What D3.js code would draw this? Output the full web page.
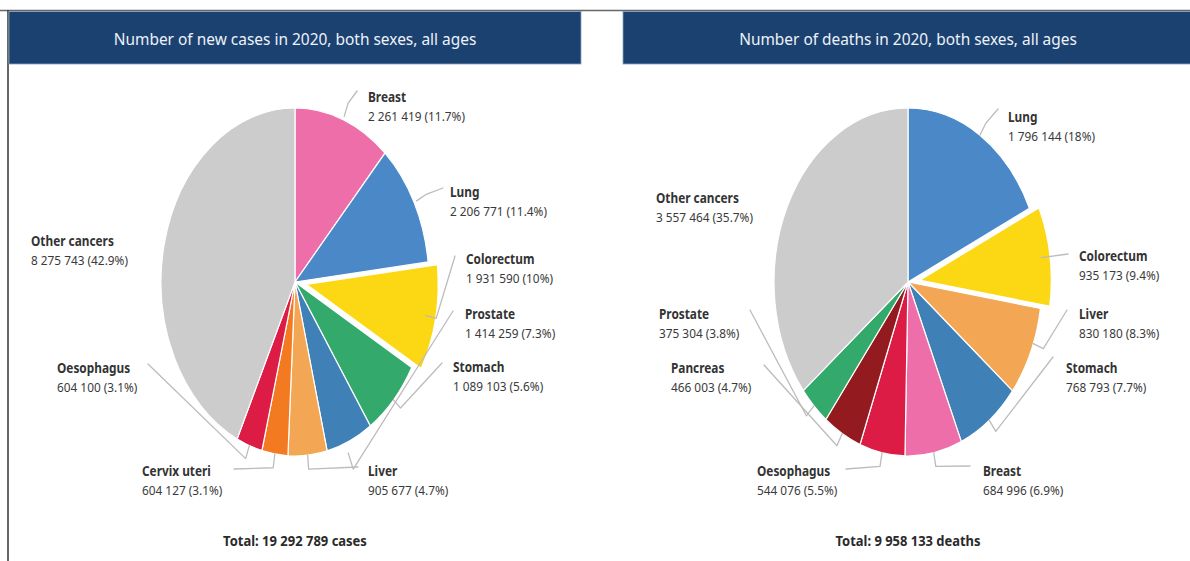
<!DOCTYPE html>
<html><head><meta charset="utf-8">
<script src="https://cdn.jsdelivr.net/npm/d3@7"></script>
<style>
html,body{margin:0;padding:0;background:#fff;}
svg{display:block;font-family:"Noto Sans",sans-serif;}
</style></head><body>
<svg id="chart" width="1190" height="561"></svg>
<script>
// ---------------- data ----------------
const casesCategories = ["Breast","Lung","Colorectum","Prostate","Stomach","Liver","Cervix uteri","Oesophagus","Other cancers"];
const casesValues = [2261419,2206771,1931590,1414259,1089103,905677,604127,604100,8275743];
const deathsCategories = ["Lung","Colorectum","Liver","Stomach","Breast","Oesophagus","Pancreas","Prostate","Other cancers"];
const deathsValues = [1796144,935173,830180,768793,684996,544076,466003,375304,3557464];
const panelTitles = ["Number of new cases in 2020, both sexes, all ages","Number of deaths in 2020, both sexes, all ages"];
const totalUnits = ["cases","deaths"];
const explodedCategory = "Colorectum";

// ---------------- styles ----------------
const colorMap = {
  "Breast":"#ee6ea9","Lung":"#4a88c8","Colorectum":"#fbd813","Prostate":"#33a96c",
  "Stomach":"#3f80b7","Liver":"#f3a653","Cervix uteri":"#f47a22","Oesophagus":"#dc1c45",
  "Pancreas":"#931a1e","Other cancers":"#cbcccb"
};

// ---------------- layout (label placement, relative to pie centre) ----------------
const casesLayout = {
  "Breast":       {label:[73,-181],  leader:{t:.5,k1:1.02,k2:1.10,end:[62,-191]}},
  "Lung":         {label:[155,-86],  leader:{t:.5,k1:1.02,k2:1.10,end:[148,-94]}},
  "Colorectum":   {label:[171,-19],  leader:{t:.5,k1:0.92,k2:1.0,end:[160,-26]}},
  "Prostate":     {label:[170,36],   leader:{slice:"Stomach",t:.6,k1:1.06,k2:1.16,end:[158,29]}},
  "Stomach":      {label:[158,89],   leader:{slice:"Prostate",t:.5,k1:1.0,k2:1.07,end:[147,81]}},
  "Liver":        {label:[73,193],   leader:{t:.5,k1:1.0,k2:1.08,end:[63,185]}},
  "Cervix uteri": {label:[-153,193], leader:{t:.5,k1:1.0,k2:1.08,end:[-61,187]}},
  "Oesophagus":   {label:[-238,90],  leader:{t:.5,k1:1.0,k2:1.08,end:[-147,82]}},
  "Other cancers":{label:[-264,-37], leader:null}
};
const deathsLayout = {
  "Lung":         {label:[100,-161], leader:{t:.5,k1:1.0,k2:1.08,end:[90,-173]}},
  "Colorectum":   {label:[171,-22],  leader:{t:.5,k1:0.93,k2:null,end:[160,-28]}},
  "Liver":        {label:[171,36],   leader:{t:.4,k1:1.0,k2:1.08,end:[159,28]}},
  "Stomach":      {label:[158,90],   leader:{t:.5,k1:1.0,k2:1.08,end:[145,75]}},
  "Breast":       {label:[75,193],   leader:{t:.5,k1:1.0,k2:1.08,end:[62,184]}},
  "Oesophagus":   {label:[-151,193], leader:{t:.5,k1:1.0,k2:1.08,end:[-62,187]}},
  "Pancreas":     {label:[-237,90],  leader:{t:.5,k1:1.0,k2:1.08,end:[-144,83]}},
  "Prostate":     {label:[-249,36],  leader:{t:.5,k1:1.0,k2:1.08,end:[-158,28]}},
  "Other cancers":{label:[-252,-80], leader:null}
};

const W = 1190, H = 561;
const RX = 134, RY = 174, CY = 282;
const panels = [
  {cats:casesCategories, vals:casesValues, layout:casesLayout, cx:295, hx:9, hw:572, title:panelTitles[0], unit:totalUnits[0]},
  {cats:deathsCategories, vals:deathsValues, layout:deathsLayout, cx:908, hx:623, hw:570, title:panelTitles[1], unit:totalUnits[1]}
];

const svg = d3.select("#chart");
const locale = d3.formatLocale({decimal:".", thousands:" ", grouping:[3], currency:["",""]});
const fmtNum = locale.format(",");
const fmtPct = v => { let s = v.toFixed(1); if (s.endsWith(".0")) s = s.slice(0,-2); return s; };

function measure(str, size, weight){
  const t = svg.append("text").attr("font-size",size).attr("font-weight",weight).text(str);
  const w = t.node().getComputedTextLength(); t.remove(); return w;
}
const LBL = 13.3;
const labelSX = 97 / measure("2 261 419 (11.7%)", LBL, 400);

// frame
svg.append("line").attr("x1",0).attr("x2",W).attr("y1",10.5).attr("y2",10.5).attr("stroke","#666").attr("stroke-width",1.5);
svg.append("line").attr("x1",8).attr("x2",8).attr("y1",10).attr("y2",H).attr("stroke","#333").attr("stroke-width",1.5);

const titleTargets = [363, 338];
const totalTargets = [144, 145];

panels.forEach((p, pi) => {
  const g = svg.append("g");
  g.append("rect").attr("x",p.hx).attr("y",11.5).attr("width",p.hw).attr("height",52.5)
    .attr("fill","#1b4171").attr("stroke","#8aa2c0").attr("stroke-width",0.8);
  const TS = 17;
  const tsx = titleTargets[pi] / measure(p.title, TS, 400);
  g.append("text").attr("transform",`translate(${p.cx},${45}) scale(${tsx},1)`)
    .attr("text-anchor","middle").attr("font-size",TS).attr("fill","#eef2f8").text(p.title);

  const total = d3.sum(p.vals);
  const arcs = d3.pie().sort(null).value(d => d)(p.vals);
  const arcGen = d3.arc().innerRadius(0).outerRadius(RY);
  const EXP = 10;
  const offset = d => {
    if (p.cats[d.index] !== explodedCategory) return [0,0];
    const m = (d.startAngle + d.endAngle)/2;
    return [EXP*Math.sin(m), -EXP*Math.cos(m)];
  };
  const pt = (d, t, k) => {
    const a = d.startAngle + (d.endAngle - d.startAngle)*t;
    const o = offset(d);
    return [p.cx + o[0] + k*RX*Math.sin(a), CY + o[1] - k*RY*Math.cos(a)];
  };

  g.selectAll("path.slice").data(arcs).join("path").attr("class","slice")
    .attr("transform", d => { const o = offset(d); return `translate(${p.cx+o[0]},${CY+o[1]}) scale(${RX/RY},1)`; })
    .attr("d", arcGen)
    .attr("fill", d => colorMap[p.cats[d.index]])
    .attr("stroke","#fff").attr("stroke-width", d => p.cats[d.index]===explodedCategory ? 2.5 : 1.2)
    .attr("vector-effect","non-scaling-stroke");

  const line = d3.line();
  p.cats.forEach((c, i) => {
    const L = p.layout[c];
    if (!L.leader) return;
    const ld = L.leader;
    const si = ld.slice ? p.cats.indexOf(ld.slice) : i;
    const d = arcs[si];
    const pts = [pt(d, ld.t, ld.k1)];
    if (ld.k2) pts.push(pt(d, ld.t, ld.k2));
    pts.push([p.cx + ld.end[0], CY + ld.end[1]]);
    g.append("path").attr("d", line(pts)).attr("fill","none")
      .attr("stroke","#bcbcbc").attr("stroke-width",1.3).attr("stroke-linejoin","round").attr("stroke-linecap","round");
  });

  p.cats.forEach((c, i) => {
    const L = p.layout[c];
    const x = p.cx + L.label[0], y = CY + L.label[1];
    g.append("text").attr("transform",`translate(${x},${y+0.5}) scale(${labelSX},1)`)
      .attr("font-size",LBL).attr("font-weight",700).attr("fill","#333").text(c);
    g.append("text").attr("transform",`translate(${x},${y+20}) scale(${labelSX},1)`)
      .attr("font-size",LBL).attr("font-weight",400).attr("fill","#3a3a3a")
      .text(`${fmtNum(p.vals[i])} (${fmtPct(p.vals[i]/total*100)}%)`);
  });

  const tt = `Total: ${fmtNum(total)} ${p.unit}`;
  const TT = 15;
  const ttsx = totalTargets[pi] / measure(tt, TT, 700);
  g.append("text").attr("transform",`translate(${p.cx},${545.5}) scale(${ttsx},1)`)
    .attr("text-anchor","middle").attr("font-size",TT).attr("font-weight",700).attr("fill","#2a2a2a").text(tt);
});
</script>
</body></html>
